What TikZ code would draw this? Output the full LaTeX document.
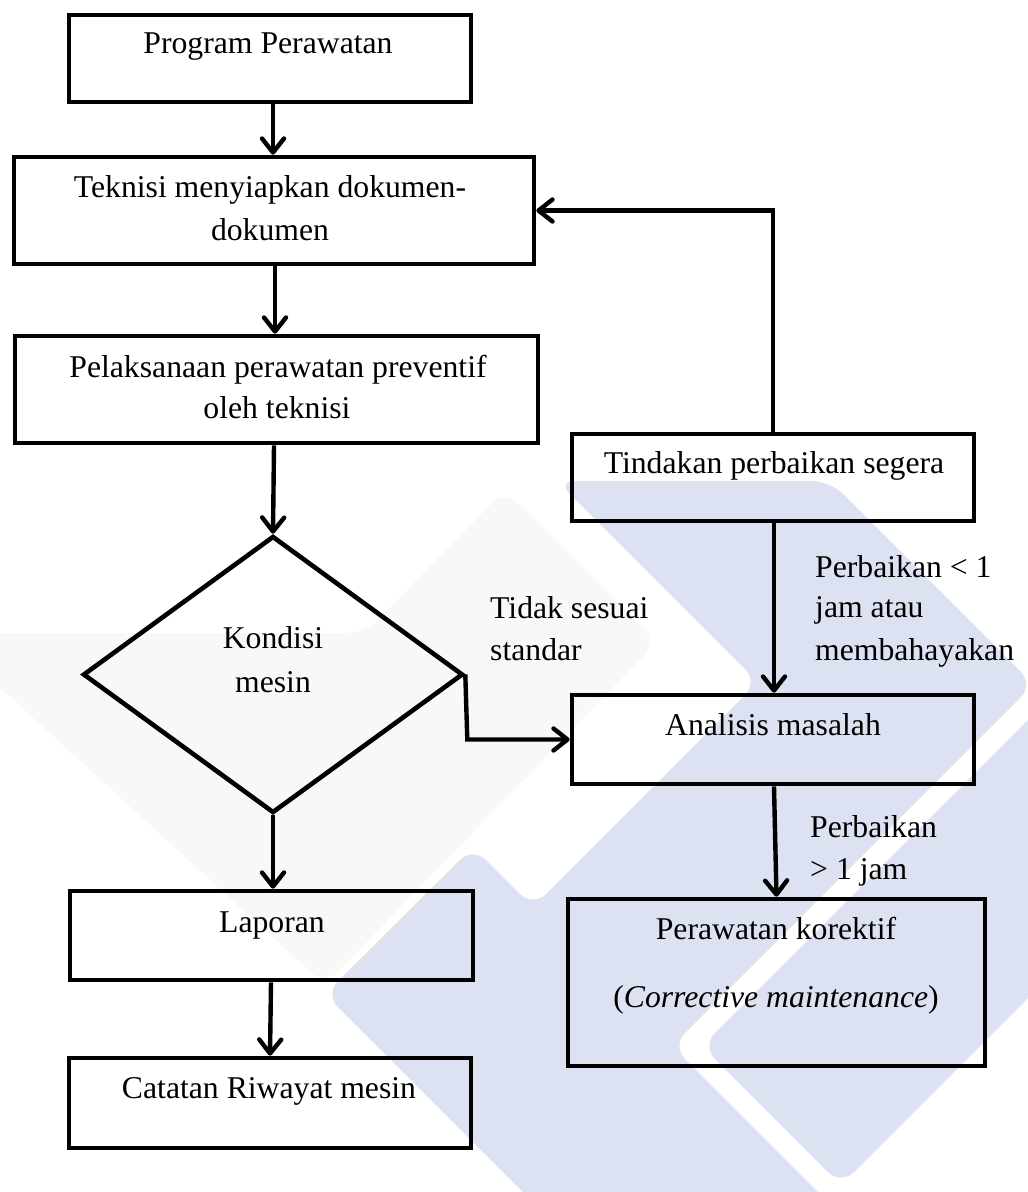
\documentclass[tikz,border=0pt]{standalone}
\usepackage{fontspec}
\setmainfont{Liberation Serif}
\usetikzlibrary{arrows.meta,shapes.geometric,calc}
\definecolor{wml}{RGB}{220,226,241}
\definecolor{wmg}{RGB}{248,248,249}
\begin{document}
\begin{tikzpicture}[x=1pt,y=-1pt,
  bx/.style={draw, line width=4.6pt, rectangle, inner sep=0pt},
  dm/.style={draw, line width=4.6pt, diamond, inner sep=0pt},
  tx/.style={font=\fontsize{31.7}{42}\selectfont, inner sep=0pt, anchor=base},
  lb/.style={font=\fontsize{31.7}{42}\selectfont, inner sep=0pt, anchor=base west},
  arr/.style={line width=4.4pt, -{Straight Barb[length=14pt,width=22pt,round]}},
  ln/.style={line width=4.4pt}]
\fill[white] (0,0) rectangle (1028,1192);
\useasboundingbox (0,0) rectangle (1028,1192);
% watermark
\begin{scope}
\clip (0,0) rectangle (1028,1192);
\fill[wmg, rounded corners=18pt] (-20,633) -- (365,633) -- (505,490) -- (657,642) -- (325,985) -- (-20,669) -- cycle;
\fill[wml, rounded corners=18pt] (557,481) -- (830,481) -- (1033.5,684.5) -- (672,1046) -- (850,1224) -- (555,1224) -- (325,994) -- (473,847) -- (533,907) -- (758,682) -- cycle;
\fill[wml, rounded corners=18pt] (702,1046) -- (841,1185) -- (1080,946) -- (1080,668) -- cycle;
\end{scope}
% boxes
\node[bx, minimum width=402pt, minimum height=87pt]  (b1)  at (270,58.5) {};
\node[bx, minimum width=520pt, minimum height=107pt] (b2)  at (274,210.5) {};
\node[bx, minimum width=523pt, minimum height=107pt] (b3)  at (276.5,389.5) {};
\node[dm, minimum width=380pt, minimum height=277pt] (dia) at (273,674.5) {};
\node[bx, minimum width=402pt, minimum height=87pt]  (tin) at (773,477.5) {};
\node[bx, minimum width=402pt, minimum height=89pt]  (ana) at (773,739.5) {};
\node[bx, minimum width=417pt, minimum height=167pt] (per) at (776.5,982.5) {};
\node[bx, minimum width=403pt, minimum height=89pt]  (lap) at (271.5,935.5) {};
\node[bx, minimum width=402pt, minimum height=90pt]  (cat) at (270,1103) {};
% texts
\node[tx] (t1)  at (268,53)  {Program Perawatan};
\node[tx] (t2a) at (270,197) {Teknisi menyiapkan dokumen-};
\node[tx] (t2b) at (270,240) {dokumen};
\node[tx] (t3a) at (278,377) {Pelaksanaan perawatan preventif};
\node[tx] (t3b) at (277,418) {oleh teknisi};
\node[tx] (td1) at (273,648) {Kondisi};
\node[tx] (td2) at (273,692) {mesin};
\node[tx] (tt)  at (774,473) {Tindakan perbaikan segera};
\node[tx] (ta)  at (773,735) {Analisis masalah};
\node[tx] (tp1) at (776,939) {Perawatan korektif};
\node[tx] (tp2) at (776,1007) {(\textit{Corrective maintenance})};
\node[tx] (tl)  at (272,932) {Laporan};
\node[tx] (tc)  at (269,1098) {Catatan Riwayat mesin};
% labels
\node[lb] (l1a) at (490,618) {Tidak sesuai};
\node[lb] (l1b) at (490,660) {standar};
\node[lb] (l2a) at (815,577) {Perbaikan < 1};
\node[lb] (l2b) at (815,617) {jam atau};
\node[lb] (l2c) at (815,660) {membahayakan};
\node[lb] (l3a) at (810,837) {Perbaikan};
\node[lb] (l3b) at (810,879) {> 1 jam};
% connectors
\draw[arr] ([xshift=3pt]b1.south) -- ([xshift=-1pt]b2.north);
\draw[arr] ([xshift=1pt]b2.south) -- ([xshift=-1.5pt]b3.north);
\draw[arr] ([xshift=-2.5pt]b3.south) -- (dia.north);
\draw[arr] (dia.south) -- ([xshift=1.5pt]lap.north);
\draw[arr] ([xshift=-0.5pt]lap.south) -- (cat.north);
\draw[arr] (dia.east) -- ([xshift=2pt]dia.east |- ana.west) -- (ana.west);
\draw[arr] (tin.north) |- (b2.east);
\draw[arr] ([xshift=1pt]tin.south) -- ([xshift=1pt]ana.north);
\draw[arr] ([xshift=1pt]ana.south) -- (per.north);
\end{tikzpicture}
\end{document}
